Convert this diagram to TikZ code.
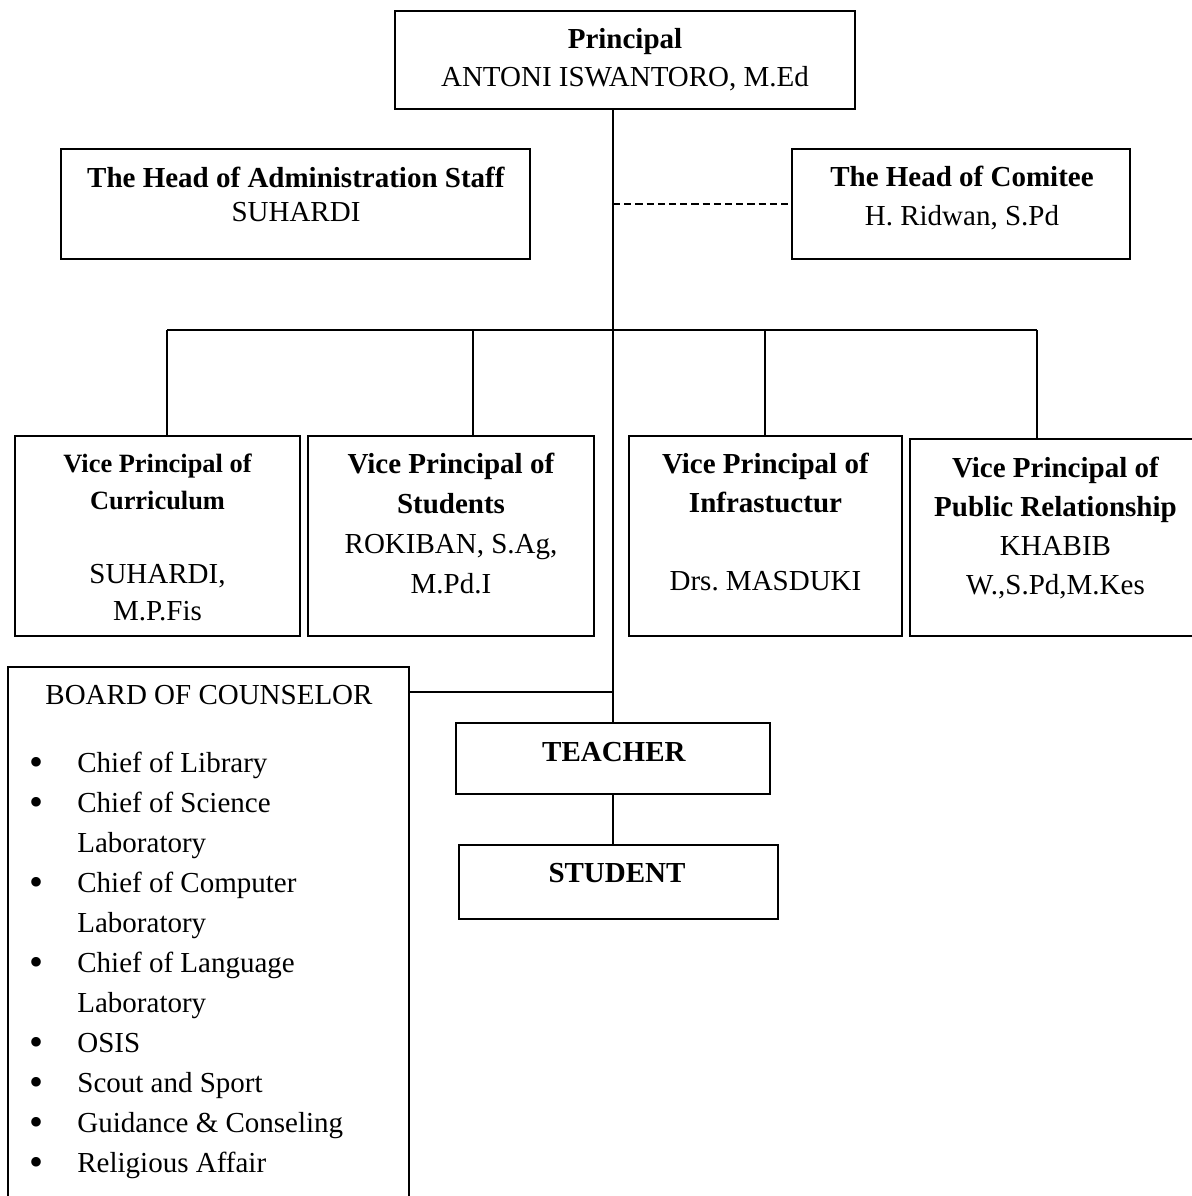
\documentclass[tikz,border=0pt]{standalone}
\usepackage{fontspec}
\setmainfont{Liberation Serif}
\usetikzlibrary{fit,positioning}
\definecolor{black}{RGB}{0,0,0}
\tikzset{
  box/.style={draw=black, line width=1pt, inner sep=0pt},
  txt/.style={align=center, inner sep=0pt, font=\fontsize{14.5}{19}\selectfont},
  link/.style={draw=black, line width=0.8pt}
}
\newcommand{\smallbf}[1]{{\fontsize{13.2}{18.5}\selectfont\bfseries #1}}
\newcommand{\bigdot}{\raisebox{-1.5pt}{\fontsize{20}{20}\selectfont\textbullet}}

\begin{document}
\begin{tikzpicture}[x=0.5pt, y=-0.5pt]
\useasboundingbox (0,0) rectangle (1192,1196);
% top
\node[box, fit={(395,11) (855,109)}] (principal) {};
\node[txt] (principal-t) at (625,60) {\textbf{Principal}\\ANTONI ISWANTORO, M.Ed};
\node[box, fit={(61,149) (530,259)}] (admin) {};
\node[txt, font=\fontsize{14.5}{17}\selectfont] (admin-t) at (296,194) {\textbf{The Head of Administration Staff}\\SUHARDI};
\node[box, fit={(792,149) (1130,259)}] (comitee) {};
\node[txt, font=\fontsize{14.5}{19.5}\selectfont] (comitee-t) at (962,198) {\textbf{The Head of Comitee}\\H. Ridwan, S.Pd};
% vice principals
\node[box, fit={(15,436) (300,636)}] (curr) {};
\node[txt, font=\fontsize{14.5}{18.5}\selectfont] (curr-t) at (157.5,537) {\smallbf{Vice Principal of}\\\smallbf{Curriculum}\\[18.5pt]SUHARDI,\\M.P.Fis};
\node[box, fit={(308,436) (594,636)}] (stud) {};
\node[txt, font=\fontsize{14.5}{20}\selectfont] (stud-t) at (451,523) {\textbf{Vice Principal of}\\\textbf{Students}\\ROKIBAN, S.Ag,\\M.Pd.I};
\node[box, fit={(629,436) (902,636)}] (infra) {};
\node[txt, font=\fontsize{14.5}{19.5}\selectfont] (infra-t) at (765.5,522) {\textbf{Vice Principal of}\\\textbf{Infrastuctur}\\[19.5pt]Drs.\ MASDUKI};
\node[box, fit={(910,439) (1196,636)}] (pubrel) {};
\node[txt, font=\fontsize{14.5}{19.5}\selectfont] (pubrel-t) at (1055.5,528) {\textbf{Vice Principal of}\\\textbf{Public Relationship}\\KHABIB\\W.,S.Pd,M.Kes};
% bottom
\node[box, fit={(456,723) (770,794)}] (teacher) {};
\node[txt] (teacher-t) at (614,752) {\textbf{TEACHER}};
\node[box, fit={(459,845) (778,919)}] (student) {};
\node[txt] (student-t) at (617,873) {\textbf{STUDENT}};
\node[box, fit={(8,667) (409,1205)}] (board) {};
\node[txt] (board-t) at (209,695) {BOARD OF COUNSELOR};
\node[txt, anchor=north west, font=\fontsize{14.5}{20}\selectfont] (board-list) at (29,744) {%
\begin{tabular}{@{}p{24pt}@{}l@{}}
\bigdot & Chief of Library\\
\bigdot & Chief of Science\\
 & Laboratory\\
\bigdot & Chief of Computer\\
 & Laboratory\\
\bigdot & Chief of Language\\
 & Laboratory\\
\bigdot & OSIS\\
\bigdot & Scout and Sport\\
\bigdot & Guidance \& Conseling\\
\bigdot & Religious Affair
\end{tabular}};

% connectors
\coordinate (b1) at (167,330);
\coordinate (b2) at (473,330);
\coordinate (b3) at (765,330);
\coordinate (b4) at (1037,330);
\coordinate (cjoin) at (612,692);
\draw[link] (teacher.north |- principal.south) -- (teacher.north);
\draw[link, dash pattern=on 3.6pt off 2pt] (teacher.north |- comitee.west) -- (comitee.west);
\draw[link] (b1) -- (b4);
\foreach \b/\v in {b1/curr, b2/stud, b3/infra, b4/pubrel}{
\draw[link] (\b) -- (\b |- \v.north);
}
\draw[link] (board.east |- cjoin) -- (cjoin);
\draw[link] (teacher.south) -- (teacher.south |- student.north);
\end{tikzpicture}
\end{document}
